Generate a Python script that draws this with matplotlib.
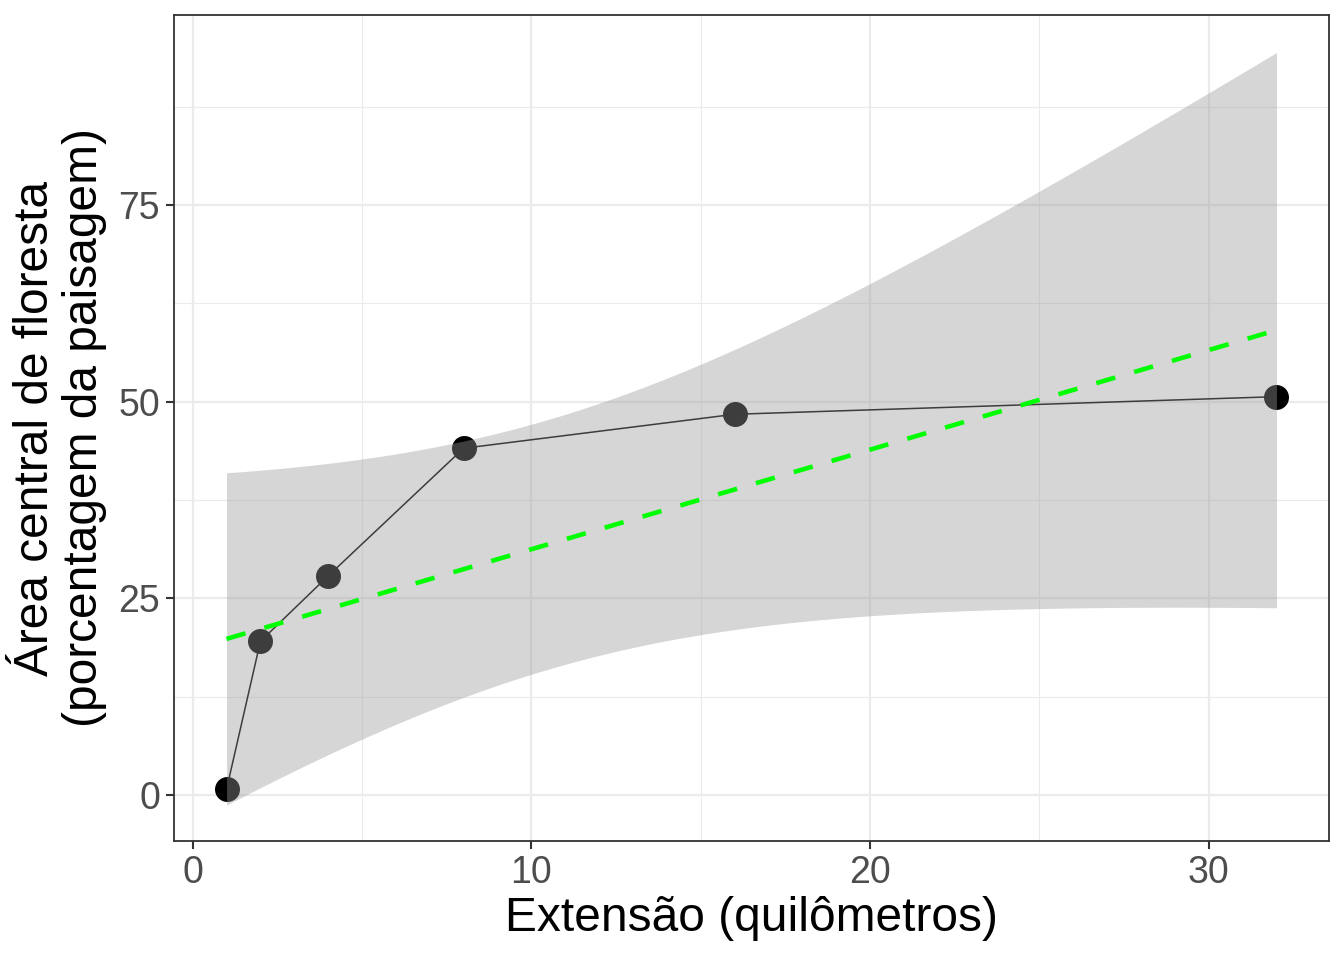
import numpy as np
import matplotlib
matplotlib.use('Agg')
import matplotlib.pyplot as plt

# ── Data ──────────────────────────────────────────────────────────────────────
extensao_km = np.array([1, 2, 4, 8, 16, 32])
area_central = np.array([0.72, 19.53, 27.84, 44.07, 48.39, 50.63])

x_ticks = [0, 10, 20, 30]
y_ticks = [0, 25, 50, 75]
x_minor = [5, 15, 25]
y_minor = [12.5, 37.5, 62.5, 87.5]

T_975_DF4 = 2.776  # t quantile for 95% CI, n - 2 = 4 df

# ── Linear fit (geom_smooth method="lm") ──────────────────────────────────────
n = len(extensao_km)
slope, intercept = np.polyfit(extensao_km, area_central, 1)
xs = np.linspace(extensao_km.min(), extensao_km.max(), 200)
fit = intercept + slope * xs
resid = area_central - (intercept + slope * extensao_km)
s = np.sqrt(np.sum(resid ** 2) / (n - 2))
xbar = extensao_km.mean()
sxx = np.sum((extensao_km - xbar) ** 2)
se = s * np.sqrt(1 / n + (xs - xbar) ** 2 / sxx)
lo, hi = fit - T_975_DF4 * se, fit + T_975_DF4 * se

# ── Figure ────────────────────────────────────────────────────────────────────
plt.rcParams['font.family'] = ['Liberation Sans', 'DejaVu Sans']
fig = plt.figure(figsize=(13.44, 9.6), dpi=100, facecolor='white')
ax = fig.add_axes([0.1295, 0.124, 0.8593, 0.8604])

ax.set_xlim(-0.55, 33.55)
ax.set_ylim(-5.85, 99.15)

for v in x_minor:
    ax.axvline(v, color='#EBEBEB', lw=0.8, zorder=0)
for v in y_minor:
    ax.axhline(v, color='#EBEBEB', lw=0.8, zorder=0)
for v in x_ticks:
    ax.axvline(v, color='#EBEBEB', lw=1.6, zorder=0)
for v in y_ticks:
    ax.axhline(v, color='#EBEBEB', lw=1.6, zorder=0)

# points and line in black, ribbon drawn on top (as ggplot layers)
ax.plot(extensao_km, area_central, color='black', lw=1.1, zorder=2)
ax.scatter(extensao_km, area_central, s=18 ** 2, color='black', zorder=3,
           linewidths=0)
ax.fill_between(xs, lo, hi, color='#999999', alpha=0.4, lw=0, zorder=4)
ax.plot(xs, fit, color='#00FF00', lw=3.3, linestyle=(0, (4.3, 4.3)), zorder=5)

ax.set_xticks(x_ticks)
ax.set_yticks(y_ticks)
ax.tick_params(axis='both', which='major', length=6, width=1.5,
               color='#333333', labelcolor='#4D4D4D', labelsize=27, pad=4)
for sp in ax.spines.values():
    sp.set_color('#333333')
    sp.set_linewidth(1.3)

ax.set_xlabel("Extensão (quilômetros)", fontsize=34.5, color='black', labelpad=4)
ax.set_ylabel("Área central de floresta\n(porcentagem da paisagem)",
              fontsize=34.5, color='black', labelpad=8, linespacing=1.12)

fig.savefig('out.png', dpi=100, facecolor='white')
plt.close(fig)
